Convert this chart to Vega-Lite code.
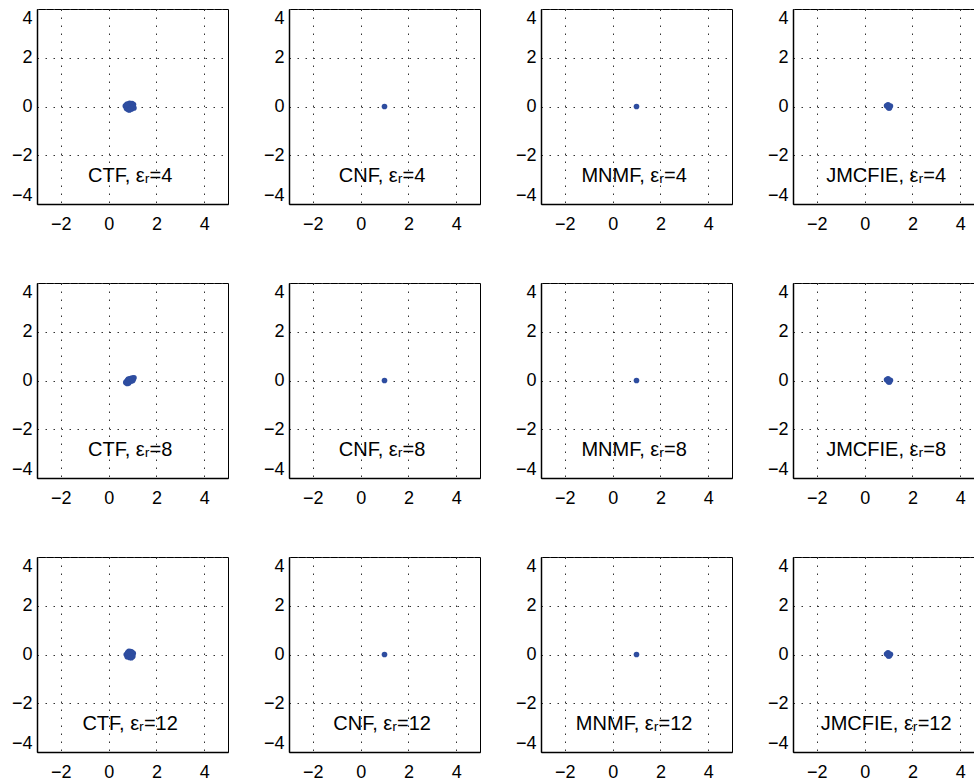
{
  "$schema": "https://vega.github.io/schema/vega-lite/v6.json",
  "padding": {"left": 10, "top": 8, "right": 0, "bottom": 0},
  "background": "white",
  "datasets": {
    "pts": [
      {"panel": "CTF-4", "method": "CTF", "er": 4, "x": 0.70, "y": 0.02},
      {"panel": "CTF-4", "method": "CTF", "er": 4, "x": 0.75, "y": -0.08},
      {"panel": "CTF-4", "method": "CTF", "er": 4, "x": 0.78, "y": 0.10},
      {"panel": "CTF-4", "method": "CTF", "er": 4, "x": 0.82, "y": -0.12},
      {"panel": "CTF-4", "method": "CTF", "er": 4, "x": 0.85, "y": 0.05},
      {"panel": "CTF-4", "method": "CTF", "er": 4, "x": 0.88, "y": 0.13},
      {"panel": "CTF-4", "method": "CTF", "er": 4, "x": 0.90, "y": -0.05},
      {"panel": "CTF-4", "method": "CTF", "er": 4, "x": 0.93, "y": 0.09},
      {"panel": "CTF-4", "method": "CTF", "er": 4, "x": 0.96, "y": -0.10},
      {"panel": "CTF-4", "method": "CTF", "er": 4, "x": 1.00, "y": 0.03},
      {"panel": "CTF-4", "method": "CTF", "er": 4, "x": 1.04, "y": 0.08},
      {"panel": "CTF-4", "method": "CTF", "er": 4, "x": 1.06, "y": -0.06},
      {"panel": "CTF-4", "method": "CTF", "er": 4, "x": 0.80, "y": 0.00},
      {"panel": "CTF-4", "method": "CTF", "er": 4, "x": 0.92, "y": 0.00},
      {"panel": "CTF-4", "method": "CTF", "er": 4, "x": 0.98, "y": 0.12},
      {"panel": "CTF-4", "method": "CTF", "er": 4, "x": 0.87, "y": -0.14},
      {"panel": "CTF-4", "method": "CTF", "er": 4, "x": 0.74, "y": 0.06},
      {"panel": "CTF-4", "method": "CTF", "er": 4, "x": 1.02, "y": -0.02},
      {"panel": "CNF-4", "method": "CNF", "er": 4, "x": 1.00, "y": 0.00},
      {"panel": "MNMF-4", "method": "MNMF", "er": 4, "x": 1.00, "y": 0.00},
      {"panel": "JMCFIE-4", "method": "JMCFIE", "er": 4, "x": 0.92, "y": 0.03},
      {"panel": "JMCFIE-4", "method": "JMCFIE", "er": 4, "x": 1.00, "y": -0.05},
      {"panel": "JMCFIE-4", "method": "JMCFIE", "er": 4, "x": 1.08, "y": 0.02},
      {"panel": "JMCFIE-4", "method": "JMCFIE", "er": 4, "x": 0.98, "y": 0.07},
      {"panel": "JMCFIE-4", "method": "JMCFIE", "er": 4, "x": 1.04, "y": -0.06},
      {"panel": "JMCFIE-4", "method": "JMCFIE", "er": 4, "x": 1.00, "y": 0.00},
      {"panel": "CTF-8", "method": "CTF", "er": 8, "x": 0.72, "y": -0.08},
      {"panel": "CTF-8", "method": "CTF", "er": 8, "x": 0.76, "y": -0.03},
      {"panel": "CTF-8", "method": "CTF", "er": 8, "x": 0.80, "y": 0.02},
      {"panel": "CTF-8", "method": "CTF", "er": 8, "x": 0.84, "y": -0.10},
      {"panel": "CTF-8", "method": "CTF", "er": 8, "x": 0.88, "y": 0.05},
      {"panel": "CTF-8", "method": "CTF", "er": 8, "x": 0.92, "y": 0.08},
      {"panel": "CTF-8", "method": "CTF", "er": 8, "x": 0.95, "y": -0.02},
      {"panel": "CTF-8", "method": "CTF", "er": 8, "x": 0.99, "y": 0.10},
      {"panel": "CTF-8", "method": "CTF", "er": 8, "x": 1.03, "y": 0.06},
      {"panel": "CTF-8", "method": "CTF", "er": 8, "x": 1.06, "y": 0.11},
      {"panel": "CTF-8", "method": "CTF", "er": 8, "x": 0.86, "y": -0.05},
      {"panel": "CTF-8", "method": "CTF", "er": 8, "x": 0.90, "y": 0.00},
      {"panel": "CTF-8", "method": "CTF", "er": 8, "x": 0.78, "y": -0.12},
      {"panel": "CTF-8", "method": "CTF", "er": 8, "x": 0.97, "y": 0.04},
      {"panel": "CTF-8", "method": "CTF", "er": 8, "x": 1.01, "y": 0.00},
      {"panel": "CTF-8", "method": "CTF", "er": 8, "x": 0.83, "y": 0.06},
      {"panel": "CNF-8", "method": "CNF", "er": 8, "x": 1.00, "y": 0.00},
      {"panel": "MNMF-8", "method": "MNMF", "er": 8, "x": 1.00, "y": 0.00},
      {"panel": "JMCFIE-8", "method": "JMCFIE", "er": 8, "x": 0.92, "y": 0.03},
      {"panel": "JMCFIE-8", "method": "JMCFIE", "er": 8, "x": 1.00, "y": -0.05},
      {"panel": "JMCFIE-8", "method": "JMCFIE", "er": 8, "x": 1.08, "y": 0.01},
      {"panel": "JMCFIE-8", "method": "JMCFIE", "er": 8, "x": 0.98, "y": 0.07},
      {"panel": "JMCFIE-8", "method": "JMCFIE", "er": 8, "x": 1.04, "y": -0.06},
      {"panel": "JMCFIE-8", "method": "JMCFIE", "er": 8, "x": 1.00, "y": 0.00},
      {"panel": "CTF-12", "method": "CTF", "er": 12, "x": 0.74, "y": 0.00},
      {"panel": "CTF-12", "method": "CTF", "er": 12, "x": 0.78, "y": -0.09},
      {"panel": "CTF-12", "method": "CTF", "er": 12, "x": 0.80, "y": 0.08},
      {"panel": "CTF-12", "method": "CTF", "er": 12, "x": 0.85, "y": 0.13},
      {"panel": "CTF-12", "method": "CTF", "er": 12, "x": 0.88, "y": -0.12},
      {"panel": "CTF-12", "method": "CTF", "er": 12, "x": 0.90, "y": 0.04},
      {"panel": "CTF-12", "method": "CTF", "er": 12, "x": 0.94, "y": -0.06},
      {"panel": "CTF-12", "method": "CTF", "er": 12, "x": 0.97, "y": 0.10},
      {"panel": "CTF-12", "method": "CTF", "er": 12, "x": 1.00, "y": -0.02},
      {"panel": "CTF-12", "method": "CTF", "er": 12, "x": 1.03, "y": 0.05},
      {"panel": "CTF-12", "method": "CTF", "er": 12, "x": 0.84, "y": -0.03},
      {"panel": "CTF-12", "method": "CTF", "er": 12, "x": 0.92, "y": 0.12},
      {"panel": "CTF-12", "method": "CTF", "er": 12, "x": 0.95, "y": -0.13},
      {"panel": "CTF-12", "method": "CTF", "er": 12, "x": 1.01, "y": -0.08},
      {"panel": "CTF-12", "method": "CTF", "er": 12, "x": 0.87, "y": 0.00},
      {"panel": "CTF-12", "method": "CTF", "er": 12, "x": 0.82, "y": 0.04},
      {"panel": "CNF-12", "method": "CNF", "er": 12, "x": 1.00, "y": 0.00},
      {"panel": "MNMF-12", "method": "MNMF", "er": 12, "x": 1.00, "y": 0.00},
      {"panel": "JMCFIE-12", "method": "JMCFIE", "er": 12, "x": 0.92, "y": 0.02},
      {"panel": "JMCFIE-12", "method": "JMCFIE", "er": 12, "x": 1.00, "y": -0.06},
      {"panel": "JMCFIE-12", "method": "JMCFIE", "er": 12, "x": 1.08, "y": 0.01},
      {"panel": "JMCFIE-12", "method": "JMCFIE", "er": 12, "x": 0.98, "y": 0.07},
      {"panel": "JMCFIE-12", "method": "JMCFIE", "er": 12, "x": 1.04, "y": -0.05},
      {"panel": "JMCFIE-12", "method": "JMCFIE", "er": 12, "x": 1.00, "y": 0.00}
    ],
    "labs": [
      {"panel": "CTF-4", "label": "CTF, εᵣ=4"},
      {"panel": "CNF-4", "label": "CNF, εᵣ=4"},
      {"panel": "MNMF-4", "label": "MNMF, εᵣ=4"},
      {"panel": "JMCFIE-4", "label": "JMCFIE, εᵣ=4"},
      {"panel": "CTF-8", "label": "CTF, εᵣ=8"},
      {"panel": "CNF-8", "label": "CNF, εᵣ=8"},
      {"panel": "MNMF-8", "label": "MNMF, εᵣ=8"},
      {"panel": "JMCFIE-8", "label": "JMCFIE, εᵣ=8"},
      {"panel": "CTF-12", "label": "CTF, εᵣ=12"},
      {"panel": "CNF-12", "label": "CNF, εᵣ=12"},
      {"panel": "MNMF-12", "label": "MNMF, εᵣ=12"},
      {"panel": "JMCFIE-12", "label": "JMCFIE, εᵣ=12"}
    ]
  },
  "data": {"name": "pts"},
  "transform": [
    {"lookup": "panel", "from": {"data": {"name": "labs"}, "key": "panel", "fields": ["label"]}}
  ],
  "facet": {
    "row": {"field": "er", "type": "ordinal", "sort": [4, 8, 12], "header": {"labels": false, "title": null}, "title": null},
    "column": {"field": "method", "type": "nominal", "sort": ["CTF", "CNF", "MNMF", "JMCFIE"], "header": {"labels": false, "title": null}, "title": null}
  },
  "spacing": {"row": 48, "column": 33},
  "resolve": {"axis": {"x": "independent", "y": "independent"}},
  "spec": {
    "width": 191,
    "height": 195,
    "layer": [
      {
        "mark": {"type": "circle", "size": 32, "opacity": 1, "color": "#2e4da0"},
        "encoding": {
          "x": {"field": "x", "type": "quantitative", "scale": {"domain": [-3, 5], "nice": false, "zero": false},
                "axis": {"values": [-2, 0, 2, 4], "title": null, "labelPadding": 11}},
          "y": {"field": "y", "type": "quantitative", "scale": {"domain": [-4, 4], "nice": false, "zero": false},
                "axis": {"values": [-4, -2, 0, 2, 4], "title": null, "labelPadding": 5, "labelFlush": 3}}
        }
      },
      {
        "transform": [{"aggregate": [{"op": "count", "as": "n"}], "groupby": ["method", "er", "label"]}],
        "mark": {"type": "text", "fontSize": 20, "font": "Liberation Sans", "align": "center", "baseline": "middle", "color": "black"},
        "encoding": {
          "x": {"datum": 0.9, "type": "quantitative"},
          "y": {"datum": -2.85, "type": "quantitative"},
          "text": {"field": "label", "type": "nominal"}
        }
      }
    ]
  },
  "config": {
    "view": {"stroke": "black", "strokeWidth": 1},
    "axis": {
      "grid": true,
      "gridDash": [1.5, 6.5],
      "gridColor": "#333333",
      "gridWidth": 1,
      "domainColor": "black",
      "domainWidth": 1.5,
      "ticks": false,
      "labelFont": "Liberation Sans",
      "labelFontSize": 18,
      "labelColor": "black"
    }
  }
}
